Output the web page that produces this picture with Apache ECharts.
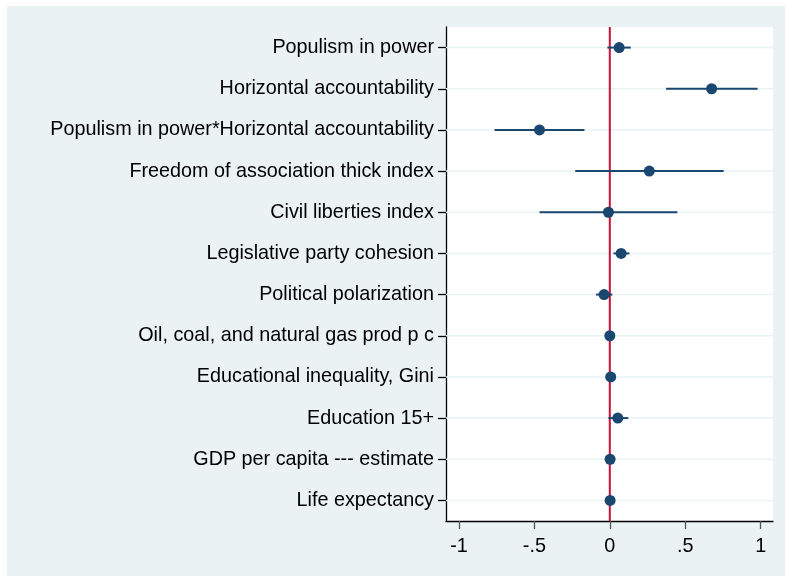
<!DOCTYPE html>
<html>
<head>
<meta charset="utf-8">
<script src="https://cdn.jsdelivr.net/npm/echarts@6/dist/echarts.min.js"></script>
<style>
  html, body { margin: 0; padding: 0; background: #fff; }
  #chart { width: 785px; height: 576px; }
</style>
</head>
<body>
<div id="chart"></div>
<script>
// coefficient labels, top to bottom
const terms = [
    'Populism in power',
    'Horizontal accountability',
    'Populism in power*Horizontal accountability',
    'Freedom of association thick index',
    'Civil liberties index',
    'Legislative party cohesion',
    'Political polarization',
    'Oil, coal, and natural gas prod p c',
    'Educational inequality, Gini',
    'Education 15+',
    'GDP per capita --- estimate',
    'Life expectancy',
];
// point estimates
const estimates = [0.062, 0.675, -0.466, 0.262, -0.009, 0.075, -0.038, 0.0, 0.006, 0.053, 0.002, 0.002];
// confidence interval bounds
const lower = [-0.016, 0.373, -0.764, -0.229, -0.466, 0.024, -0.091, -0.004, 0.002, -0.009, -0.002, -0.002];
const upper = [0.139, 0.98, -0.168, 0.755, 0.448, 0.13, 0.017, 0.004, 0.010, 0.123, 0.006, 0.006];
const xTicks = [-1, -0.5, 0, 0.5, 1];

const navy = '#1A476F';
const font = 'Liberation Sans, Arial, sans-serif';

const fmt = v => (v === 0 ? '0' : String(v).replace('0.', '.'));

const chart = echarts.init(document.getElementById('chart'));

chart.setOption({
    animation: false,
    backgroundColor: '#fff',
    graphic: [{
        type: 'rect',
        z: -10,
        shape: { x: 7, y: 6, width: 778, height: 570 },
        style: { fill: '#EAF2F3' },
    }],
    grid: {
        left: 446,
        right: 12,
        top: 27,
        bottom: 55,
        show: true,
        backgroundColor: '#fff',
        borderWidth: 0,
    },
    xAxis: {
        type: 'value',
        min: -1.086,
        max: 1.082,
        axisLine: { show: true, lineStyle: { color: '#000', width: 1.3 } },
        axisTick: { show: true, length: 8, customValues: xTicks, lineStyle: { color: '#555', width: 1.3 } },
        axisLabel: {
            customValues: xTicks,
            formatter: fmt,
            margin: 16,
            fontSize: 19.8,
            fontFamily: font,
            color: '#000',
        },
        splitLine: { show: false },
    },
    yAxis: {
        type: 'category',
        data: terms,
        inverse: true,
        axisLine: { show: true, onZero: false, lineStyle: { color: '#000', width: 1.3 } },
        axisTick: { show: true, alignWithLabel: true, length: 8, lineStyle: { color: '#000', width: 1.3 } },
        axisLabel: { margin: 12, padding: [4, 0, 0, 0], fontSize: 19.8, fontFamily: font, color: '#000' },
        splitLine: { show: false },
    },
    series: [
        {
            // horizontal gridlines
            type: 'custom',
            z: 1,
            silent: true,
            data: terms.map((t, i) => [i]),
            renderItem: (params, api) => {
                const cs = params.coordSys;
                const y = api.coord([0, api.value(0)])[1];
                return {
                    type: 'line',
                    shape: { x1: cs.x, y1: y, x2: cs.x + cs.width, y2: y },
                    style: { stroke: '#EAF2F3', lineWidth: 1.5 },
                };
            },
        },
        {
            // zero reference line
            type: 'custom',
            z: 2,
            silent: true,
            data: [[0]],
            renderItem: (params, api) => {
                const cs = params.coordSys;
                const x = api.coord([api.value(0), 0])[0];
                return {
                    type: 'line',
                    shape: { x1: x, y1: cs.y, x2: x, y2: cs.y + cs.height },
                    style: { stroke: '#C8103A', lineWidth: 2 },
                };
            },
        },
        {
            type: 'custom',
            z: 3,
            silent: true,
            data: terms.map((t, i) => [lower[i], upper[i], i]),
            renderItem: (params, api) => {
                const a = api.coord([api.value(0), api.value(2)]);
                const b = api.coord([api.value(1), api.value(2)]);
                return {
                    type: 'line',
                    shape: { x1: a[0], y1: a[1], x2: b[0], y2: b[1] },
                    style: { stroke: navy, lineWidth: 2 },
                };
            },
        },
        {
            type: 'scatter',
            z: 4,
            symbolSize: 11,
            itemStyle: { color: navy, opacity: 1 },
            data: terms.map((t, i) => [estimates[i], i]),
        },
    ],
});
</script>
</body>
</html>
